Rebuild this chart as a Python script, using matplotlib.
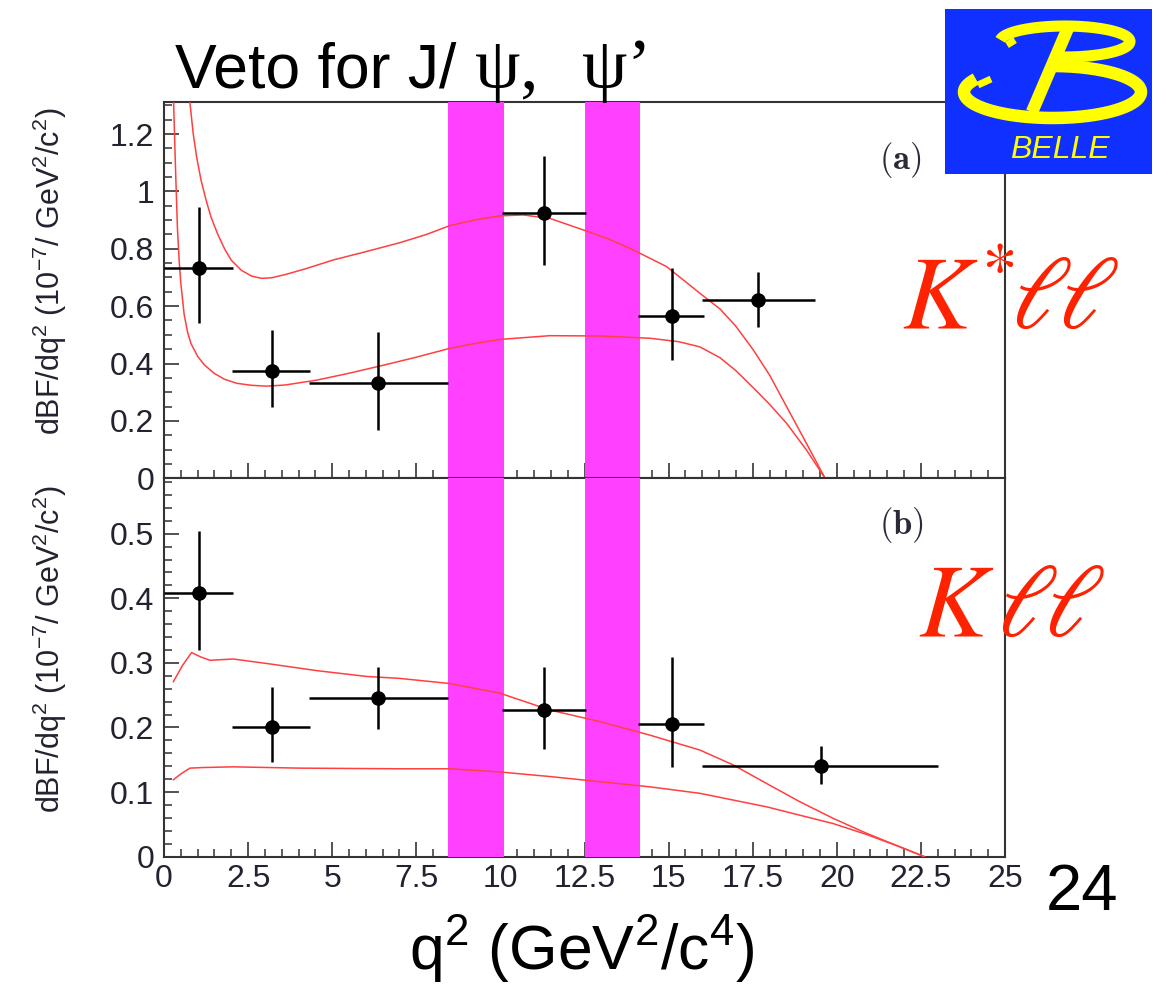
import numpy as np
import matplotlib
matplotlib.use("Agg")
import matplotlib.pyplot as plt
from matplotlib.ticker import MultipleLocator, FuncFormatter

plt.rcParams['font.family'] = ['Liberation Sans', 'DejaVu Sans']
plt.rcParams['mathtext.fontset'] = 'custom'
plt.rcParams['mathtext.rm'] = 'Liberation Sans'
plt.rcParams['mathtext.it'] = 'Liberation Sans:italic'
plt.rcParams['mathtext.bf'] = 'Liberation Sans:bold'

# ---------------- data ----------------
# veto windows (q^2)
veto_jpsi = [8.45, 10.1]
veto_psi2s = [12.5, 14.15]

# (a) K* l l
xa = [1.04, 3.22, 6.37, 11.3, 15.09, 17.65]
xa_lo = [0.0, 2.03, 4.3, 10.06, 14.1, 16.0]
xa_hi = [2.05, 4.35, 8.45, 12.53, 16.05, 19.35]
ya = [0.734, 0.373, 0.331, 0.926, 0.566, 0.621]
ya_hi = [0.947, 0.517, 0.509, 1.124, 0.732, 0.718]
ya_lo = [0.540, 0.249, 0.168, 0.743, 0.412, 0.526]

# (b) K l l
xb = [1.04, 3.22, 6.37, 11.3, 15.09, 19.53]
xb_lo = [0.0, 2.03, 4.3, 10.06, 14.1, 16.0]
xb_hi = [2.05, 4.35, 8.45, 12.53, 16.05, 23.0]
yb = [0.408, 0.200, 0.245, 0.227, 0.205, 0.140]
yb_hi = [0.504, 0.263, 0.293, 0.293, 0.309, 0.171]
yb_lo = [0.320, 0.147, 0.198, 0.166, 0.138, 0.112]

# theory bands (a)
ca_up_x = [0.72, 0.77, 0.87, 0.97, 1.1, 1.25, 1.4, 1.6, 1.8, 2.0, 2.3, 2.6, 2.9, 3.2, 3.6, 4.2,
           5.03, 6.0, 7.0, 7.8, 8.5, 9.3, 9.99, 10.68, 11.47, 12.46, 13.2, 13.95, 14.94, 15.93,
           16.53, 17.0, 17.52, 18.0, 18.51, 19.1, 19.65]
ca_up_y = [1.38, 1.31, 1.20, 1.12, 1.04, 0.97, 0.91, 0.85, 0.80, 0.76, 0.725, 0.705, 0.697, 0.699,
           0.710, 0.730, 0.761, 0.790, 0.821, 0.850, 0.881, 0.902, 0.915, 0.918, 0.906, 0.866,
           0.835, 0.796, 0.738, 0.645, 0.590, 0.530, 0.447, 0.360, 0.249, 0.121, 0.0]
ca_lo_x = [0.27, 0.3, 0.35, 0.4, 0.45, 0.5, 0.6, 0.7, 0.8, 1.0, 1.2, 1.5, 1.8, 2.16, 2.6, 3.05,
           3.6, 4.54, 5.5, 6.52, 7.5, 8.5, 9.3, 9.99, 11.47, 12.96, 14.45, 15.3, 15.93, 16.53,
           17.0, 17.52, 18.0, 18.51, 19.1, 19.65]
ca_lo_y = [1.38, 1.25, 1.05, 0.87, 0.76, 0.68, 0.57, 0.51, 0.47, 0.425, 0.395, 0.365, 0.345, 0.331,
           0.324, 0.321, 0.325, 0.342, 0.366, 0.394, 0.422, 0.453, 0.471, 0.484, 0.497, 0.496,
           0.488, 0.476, 0.458, 0.420, 0.375, 0.315, 0.258, 0.191, 0.098, 0.0]

# theory bands (b)
cb_up_x = [0.28, 0.55, 0.82, 1.1, 1.37, 2.06, 3.2, 4.54, 6.02, 7.0, 8.5, 9.99, 11.47, 12.96,
           14.45, 15.93, 16.92, 17.92, 18.9, 19.9, 20.89, 21.88, 22.6]
cb_up_y = [0.271, 0.296, 0.316, 0.309, 0.304, 0.306, 0.298, 0.288, 0.279, 0.276, 0.268, 0.253,
           0.227, 0.209, 0.188, 0.165, 0.142, 0.113, 0.085, 0.059, 0.036, 0.015, 0.0]
cb_lo_x = [0.28, 0.5, 0.77, 1.2, 2.06, 4.04, 7.0, 8.5, 9.99, 11.47, 12.96, 14.45, 15.93, 17.92,
           19.9, 20.9, 21.88, 22.6]
cb_lo_y = [0.119, 0.128, 0.137, 0.138, 0.139, 0.137, 0.136, 0.136, 0.131, 0.124, 0.116, 0.108,
           0.098, 0.077, 0.051, 0.034, 0.015, 0.0]

ylim_a = (0, 1.313)
ylim_b = (0, 0.586)
xlim = (0, 25)

# ---------------- figure ----------------
W, H = 1157, 988
fig = plt.figure(figsize=(W / 100, H / 100), dpi=100)
fig.patch.set_facecolor('white')

def fx(px):
    return px / W

def fy(py):
    return 1 - py / H

ax1 = fig.add_axes([fx(164), fy(478.2), (1005 - 164) / W, (478.2 - 101.7) / H])
ax2 = fig.add_axes([fx(164), fy(856.6), (1005 - 164) / W, (856.6 - 478.2) / H])

magenta = '#ff40ff'
red = '#ff4040'
spine_col = '#333333'
lab_col = '#222230'
fmt = FuncFormatter(lambda v, p: f'{v:g}')

def style(ax, ylim, ymaj, ymin, xlabels):
    ax.set_xlim(*xlim)
    ax.set_ylim(*ylim)
    ax.xaxis.set_major_locator(MultipleLocator(2.5))
    ax.xaxis.set_minor_locator(MultipleLocator(0.5))
    ax.yaxis.set_major_locator(MultipleLocator(ymaj))
    ax.yaxis.set_minor_locator(MultipleLocator(ymin))
    ax.xaxis.set_major_formatter(fmt)
    ax.yaxis.set_major_formatter(fmt)
    ax.tick_params(which='both', direction='in', top=False, right=False, color=spine_col,
                   labelcolor=lab_col, labelsize=23)
    ax.tick_params(which='major', length=11, width=1.2)
    ax.tick_params(which='minor', length=6, width=1.1)
    ax.tick_params(axis='y', pad=7)
    ax.tick_params(axis='x', pad=5, labelbottom=xlabels)
    for s in ax.spines.values():
        s.set_color(spine_col)
        s.set_linewidth(1.5)

for ax in (ax1, ax2):
    ax.axvspan(veto_jpsi[0], veto_jpsi[1], color=magenta, lw=0, zorder=2.6)
    ax.axvspan(veto_psi2s[0], veto_psi2s[1], color=magenta, lw=0, zorder=2.6)

ax1.plot(ca_up_x, ca_up_y, color=red, lw=1.1, zorder=3)
ax1.plot(ca_lo_x, ca_lo_y, color=red, lw=1.1, zorder=3)
ax2.plot(cb_up_x, cb_up_y, color=red, lw=1.1, zorder=3)
ax2.plot(cb_lo_x, cb_lo_y, color=red, lw=1.1, zorder=3)

def draw_points(ax, x, xlo, xhi, y, ylo, yhi):
    x = np.array(x); y = np.array(y)
    xerr = [x - np.array(xlo), np.array(xhi) - x]
    yerr = [y - np.array(ylo), np.array(yhi) - y]
    ax.errorbar(x, y, xerr=xerr, yerr=yerr, fmt='o', color='black', ms=9.5,
                elinewidth=1.8, capsize=0, zorder=4)

draw_points(ax1, xa, xa_lo, xa_hi, ya, ya_lo, ya_hi)
draw_points(ax2, xb, xb_lo, xb_hi, yb, yb_lo, yb_hi)

style(ax1, ylim_a, 0.2, 0.05, False)
style(ax2, ylim_b, 0.1, 0.02, True)

# y-axis labels
ylab = r'dBF/dq$^2$ (10$^{-7}$/ GeV$^2$/c$^2$)'
fig.text(fx(50), fy(271), ylab, rotation=90, fontsize=22, color=lab_col, ha='center', va='center')
fig.text(fx(50), fy(649), ylab, rotation=90, fontsize=22, color=lab_col, ha='center', va='center')

# panel tags
fig.text(fx(900), fy(160), r'$\mathbf{(a)}$', math_fontfamily='cm', fontsize=25,
         color='#2a2a3a', ha='center', va='center')
fig.text(fx(901), fy(525), r'$\mathbf{(b)}$', math_fontfamily='cm', fontsize=25,
         color='#2a2a3a', ha='center', va='center')

# channel labels
kcol = '#ff2200'
def klabel(x_k, x_l, base, star):
    s = r'$K^{*}$' if star else r'$K$'
    fig.text(fx(x_k), fy(base), s, math_fontfamily='stix', fontsize=74,
             color=kcol, ha='left', va='baseline')
    fig.text(fx(x_l), fy(base), r'$\ell\!\ell$', math_fontfamily='stix', fontsize=74,
             color=kcol, ha='left', va='baseline')

klabel(902, 1011, 328, True)
klabel(918, 997, 636, False)

# title pieces
fig.text(fx(175), fy(88), 'Veto for J/', fontsize=45, color='black', ha='left', va='baseline')
fig.text(fx(475), fy(88), 'ψ,', fontsize=52, family='Liberation Serif', color='black',
         ha='left', va='baseline')
fig.text(fx(582), fy(88), 'ψ’', fontsize=52, family='Liberation Serif', color='black',
         ha='left', va='baseline')

# x-axis label
fig.text(fx(582), fy(970), r'q$^2$ (GeV$^2$/c$^4$)', fontsize=45, color='black',
         ha='center', va='baseline')

# slide number
fig.text(fx(1082), fy(910), '24', fontsize=47, color='black', ha='center', va='baseline')

# Belle logo
lx0, ly0, lw_, lh_ = 945, 9, 207, 165
lax = fig.add_axes([fx(lx0), fy(ly0 + lh_), lw_ / W, lh_ / H])
lax.set_facecolor('#1030ff')
lax.set_xlim(0, lw_)
lax.set_ylim(lh_, 0)
lax.set_xticks([]); lax.set_yticks([])
for s in lax.spines.values():
    s.set_visible(False)
yel = '#ffff00'
t = np.radians(np.linspace(150, 450, 200))
lax.plot(107.5 + 88.5 * np.cos(t), 83 - 26 * np.sin(t), color=yel, lw=9, solid_capstyle='butt')
t = np.radians(np.linspace(174, -100, 200))
lax.plot(120 + 65 * np.cos(t), 32.5 - 15.5 * np.sin(t), color=yel, lw=8, solid_capstyle='butt')
lax.plot([123, 87], [19, 103], color=yel, lw=9, solid_capstyle='butt')
lax.plot([33, 46], [76, 70], color=yel, lw=5, solid_capstyle='butt')
lax.plot([62, 70], [36, 31], color=yel, lw=5, solid_capstyle='butt')
lax.text(115, 141, 'BELLE', fontsize=23, style='italic', color=yel, ha='center', va='center')

fig.savefig('out.png', dpi=100, facecolor='white')
